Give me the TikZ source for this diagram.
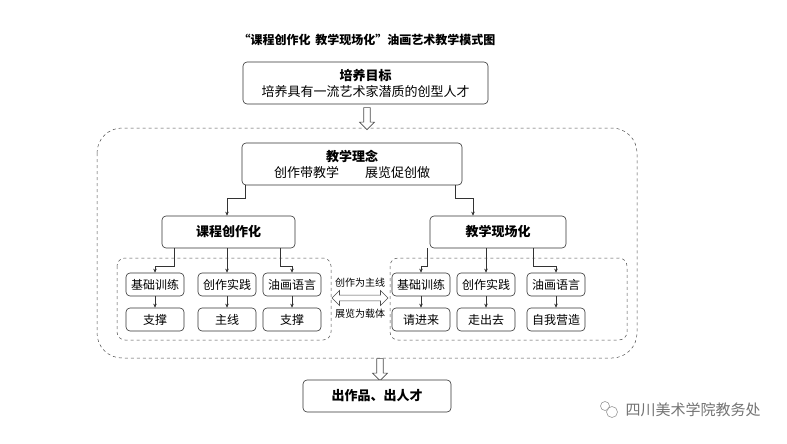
\documentclass[tikz,border=0pt]{standalone}
\usepackage{fontspec}
\setmainfont{Noto Sans CJK SC}
\usetikzlibrary{shapes.arrows,arrows.meta}
\begin{document}
\begin{tikzpicture}[x=1pt,y=-1pt,
 box/.style={draw=black!80,rounded corners=4pt,line width=0.6pt,fill=white,inner sep=0pt},
 sb/.style={box,minimum width=58pt,minimum height=23pt,font=\fontsize{12}{12}\selectfont},
 con/.style={draw=black!80,line width=0.6pt,-{Stealth[length=4pt,width=3.5pt]}},
 grp/.style={draw=black!70,dashed,line width=0.5pt},
 hollow/.style={single arrow,draw=black!70,fill=white,shape border rotate=270,minimum height=22pt,minimum width=15pt,single arrow head extend=3pt,inner sep=2pt,line width=0.6pt}]
\useasboundingbox (0,0) rectangle (787,444);
\fill[white] (0,0) rectangle (787,444);
\node[font=\fontsize{12}{12}\bfseries\selectfont] (title) at (367,40) {“课程创作化\, 教学现场化”油画艺术教学模式图};
\node[box,minimum width=245pt,minimum height=42pt,align=center,font=\fontsize{13}{16}\selectfont] (goal) at (365.5,83) {\textbf{培养目标}\\培养具有一流艺术家潜质的创型人才};
\draw[grp,rounded corners=25pt] (97,128) rectangle (637,358);
\node[hollow] (a1) at (367,117) {};
\node[box,minimum width=220pt,minimum height=42pt,align=center,font=\fontsize{13}{16}\selectfont] (idea) at (352,164) {\textbf{教学理念}\\创作带教学\qquad 展览促创做};
\node[box,minimum width=133pt,minimum height=32pt,font=\fontsize{13}{13}\bfseries\selectfont] (L) at (228.5,232) {课程创作化};
\node[box,minimum width=136pt,minimum height=32pt,font=\fontsize{13}{13}\bfseries\selectfont] (R) at (498,232) {教学现场化};
\coordinate (i1) at (245,185); \coordinate (i2) at (455,185);
\draw[con] (i1) -- (245,198) -| (L.north -| 227,0);
\draw[con] (i2) -- (455,198) -| (R.north -| 473,0);
\draw[grp,rounded corners=8pt] (117,258) rectangle (331,340);
\draw[grp,rounded corners=8pt] (390,258) rectangle (627,340);
\node[sb] (l1) at (155,284.5) {基础训练};
\node[sb] (l2) at (227,284.5) {创作实践};
\node[sb] (l3) at (292,284.5) {油画语言};
\node[sb] (l4) at (155,319.5) {支撑};
\node[sb] (l5) at (227,319.5) {主线};
\node[sb] (l6) at (292,319.5) {支撑};
\node[sb] (r1) at (421,284.5) {基础训练};
\node[sb] (r2) at (486,284.5) {创作实践};
\node[sb] (r3) at (556,284.5) {油画语言};
\node[sb] (r4) at (421,319.5) {请进来};
\node[sb] (r5) at (486,319.5) {走出去};
\node[sb] (r6) at (556,319.5) {自我营造};
\draw[con] (174,248) -- (174,266) -| (l1.north);
\draw[con] (L.south -| l2) -- (l2.north);
\draw[con] (280,248) -- (280,266) -| (l3.north);
\draw[con] (427,248) -- (427,266) -| (r1.north);
\draw[con] (R.south -| r2) -- (r2.north);
\draw[con] (533,248) -- (533,266) -| (r3.north);
\foreach \a/\b in {l1/l4,l2/l5,l3/l6,r1/r4,r2/r5,r3/r6} \draw[con] (\a.south) -- (\b.north);
\node[double arrow,draw=black!70,fill=white,minimum height=56pt,minimum width=15pt,double arrow head extend=3pt,inner sep=1.5pt,line width=0.6pt] (da) at (360,298) {};
\node[font=\fontsize{10}{10}\selectfont] (t1) at (360,283) {创作为主线};
\node[font=\fontsize{10}{10}\selectfont] (t2) at (360,314) {展览为载体};
\node[hollow,minimum height=22pt] (a2) at (380,368) {};
\node[box,minimum width=148pt,minimum height=32pt,font=\fontsize{13}{13}\bfseries\selectfont] (out) at (377,396) {出作品、出人才};
\node[font=\fontsize{15}{15}\selectfont,text=black!55,anchor=west] (wm) at (622,410) {四川美术学院教务处};
\draw[black!40,line width=0.6pt] (605,406) circle (4.5pt) (612,412) circle (5.5pt);
\end{tikzpicture}
\end{document}
